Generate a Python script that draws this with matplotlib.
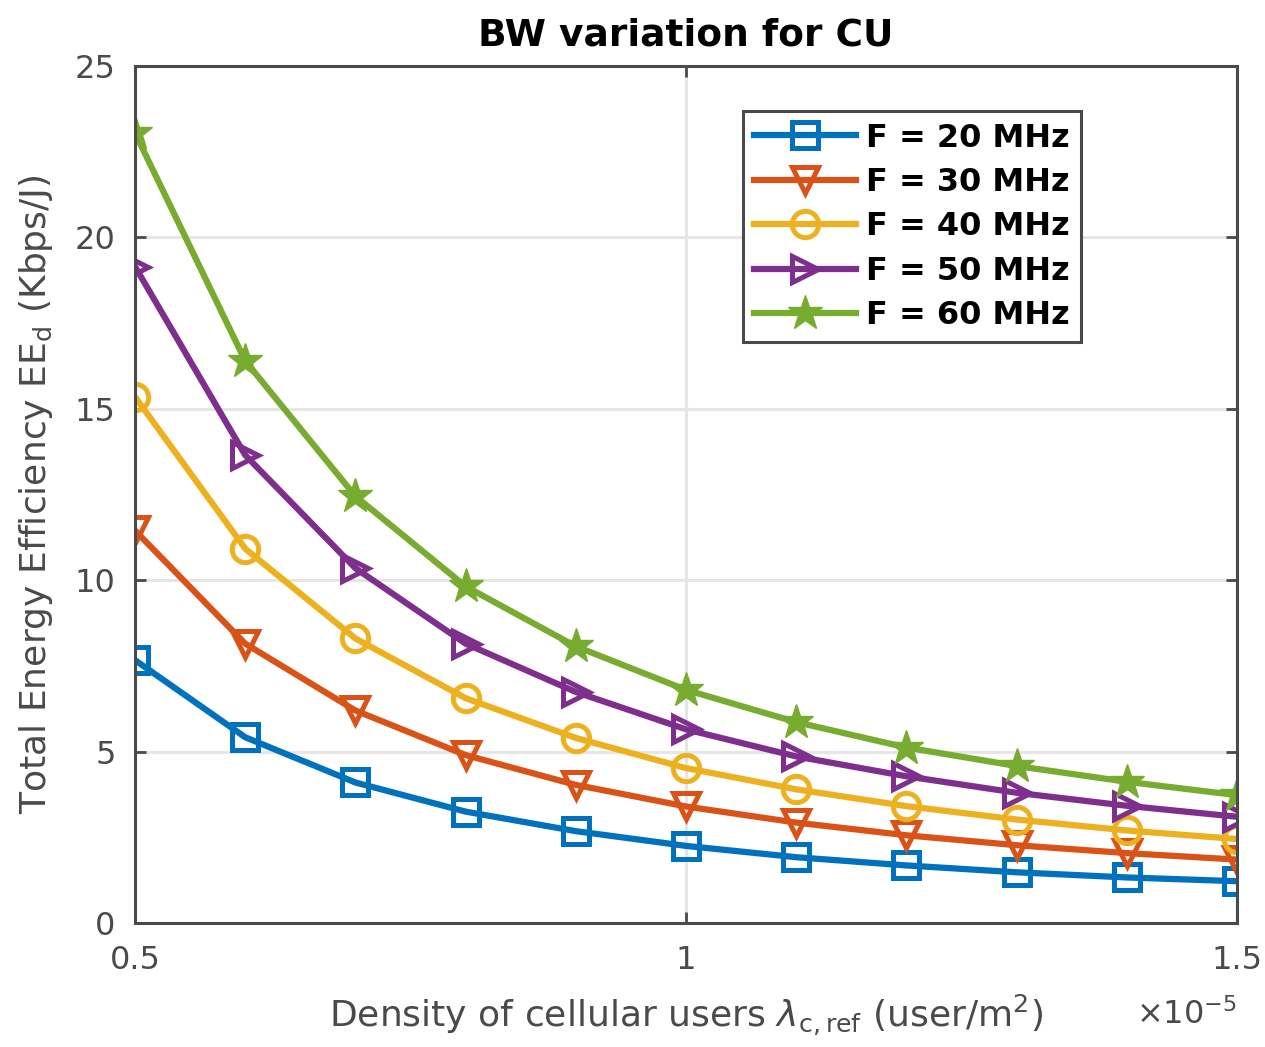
import numpy as np
import matplotlib.pyplot as plt

# user density (x 1e-5 user/m^2)
lam = [0.5, 0.6, 0.7, 0.8, 0.9, 1.0, 1.1, 1.2, 1.3, 1.4, 1.5]

ee_20 = [7.67, 5.42, 4.10, 3.25, 2.68, 2.25, 1.92, 1.68, 1.48, 1.33, 1.22]
ee_30 = [11.45, 8.15, 6.20, 4.90, 4.03, 3.40, 2.93, 2.56, 2.27, 2.04, 1.85]
ee_40 = [15.35, 10.92, 8.30, 6.56, 5.40, 4.52, 3.90, 3.41, 3.02, 2.70, 2.45]
ee_50 = [19.15, 13.65, 10.35, 8.15, 6.74, 5.65, 4.86, 4.28, 3.80, 3.42, 3.10]
ee_60 = [23.05, 16.40, 12.45, 9.82, 8.07, 6.80, 5.86, 5.12, 4.58, 4.12, 3.73]

labels = ['F = 20 MHz', 'F = 30 MHz', 'F = 40 MHz', 'F = 50 MHz', 'F = 60 MHz']
colors = ['#0072BD', '#D95319', '#EDB120', '#7E2F8E', '#77AC30']
markers = ['s', 'v', 'o', '>', '*']

fig = plt.figure(figsize=(12.65, 10.47), dpi=100)
ax = fig.add_axes([0.1067, 0.1184, 0.8712, 0.8186])

for y, lab, c, m in zip([ee_20, ee_30, ee_40, ee_50, ee_60], labels, colors, markers):
    if m == '*':
        ax.plot(lam, y, color=c, marker=m, markersize=26, mfc=c, mec=c,
                linewidth=4.5, label=lab)
    else:
        ax.plot(lam, y, color=c, marker=m, markersize=19, mfc='none', mec=c,
                mew=3.6, linewidth=4.5, label=lab)

ax.set_xlim(0.5, 1.5)
ax.set_ylim(0, 25)
ax.set_xticks([0.5, 1, 1.5])
ax.set_xticklabels(['0.5', '1', '1.5'])
ax.set_yticks([0, 5, 10, 15, 20, 25])
ax.grid(True, color='#e6e6e6', linewidth=2.2)
ax.set_axisbelow(True)
ax.tick_params(direction='in', top=True, right=True, length=8, width=2,
               labelsize=23, colors='#4a4a4a')
ax.tick_params(axis='x', pad=16)
ax.tick_params(axis='y', pad=14)
for s in ax.spines.values():
    s.set_color('#4a4a4a')
    s.set_linewidth(2.2)

ax.set_title('BW variation for CU', fontsize=27, fontweight='bold', pad=15)
ax.set_xlabel(r'Density of cellular users $\lambda_{\mathrm{c,ref}}$ (user/m$^2$)',
              fontsize=26, color='#4a4a4a', labelpad=12)
ax.set_ylabel(r'Total Energy Efficiency EE$_\mathrm{d}$ (Kbps/J)',
              fontsize=26, color='#4a4a4a', labelpad=14)
ax.text(1.0, -0.107, r'$\times10^{-5}$', transform=ax.transAxes,
        ha='right', va='center', fontsize=23, color='#4a4a4a')

leg = ax.legend(loc='upper right', bbox_to_anchor=(0.858, 0.947),
                prop={'size': 23, 'weight': 'bold'}, fancybox=False,
                framealpha=1, edgecolor='#4a4a4a', handlelength=3.2,
                borderpad=0.35, labelspacing=0.42, handletextpad=0.3,
                borderaxespad=0)
leg.get_frame().set_linewidth(2.2)

plt.savefig('out.png', dpi=100)
